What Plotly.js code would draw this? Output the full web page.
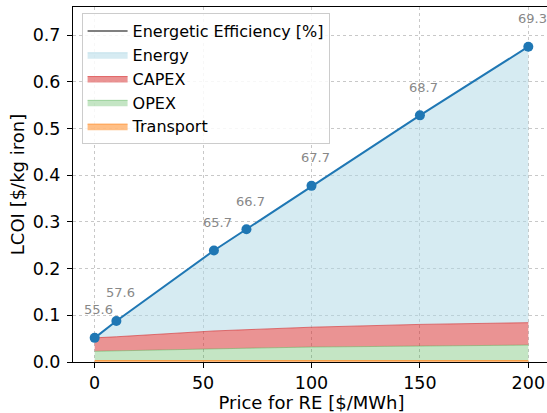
<!DOCTYPE html>
<html>
<head>
<meta charset="utf-8">
<script src="https://cdn.plot.ly/plotly-3.0.1.min.js"></script>
<style>
html,body{margin:0;padding:0;overflow:hidden;background:#fff;}
#chart{width:551px;height:413px;}
</style>
</head>
<body>
<div id="chart"></div>
<script>
// Price for renewable electricity [$/MWh]
const price = [0, 10, 55, 70, 100, 150, 200];
// LCOI components [$/kg iron]
const transport = [0.003, 0.003, 0.003, 0.003, 0.003, 0.003, 0.003];
const opex      = [0.0199, 0.021, 0.0255, 0.0265, 0.029, 0.0315, 0.0332];
const capex     = [0.0288, 0.030, 0.038, 0.0395, 0.0425, 0.046, 0.048];
const energy    = [0.0, 0.0339, 0.1722, 0.2153, 0.3026, 0.4475, 0.5908];
// Energetic efficiency [%]
const efficiency = ['55.6', '57.6', '65.7', '66.7', '67.7', '68.7', '69.3'];

const total = price.map((_, i) => transport[i] + opex[i] + capex[i] + energy[i]);

const traces = [
  {x: [null], y: [null], mode: 'lines', name: 'Energetic Efficiency [%]',
   line: {color: '#808080', width: 2}, legendrank: 1, hoverinfo: 'skip'},
  {x: price, y: transport, stackgroup: 'lcoi', mode: 'lines', name: 'Transport',
   fillcolor: 'rgba(255,127,14,0.5)', line: {color: 'rgba(255,127,14,0.7)', width: 1}, legendrank: 5},
  {x: price, y: opex, stackgroup: 'lcoi', mode: 'lines', name: 'OPEX',
   fillcolor: 'rgba(44,160,44,0.28)', line: {color: 'rgba(44,160,44,0.35)', width: 1}, legendrank: 4},
  {x: price, y: capex, stackgroup: 'lcoi', mode: 'lines', name: 'CAPEX',
   fillcolor: 'rgba(214,39,40,0.5)', line: {color: 'rgba(214,39,40,0.6)', width: 1}, legendrank: 3},
  {x: price, y: energy, stackgroup: 'lcoi', mode: 'lines', name: 'Energy',
   fillcolor: 'rgba(173,216,230,0.5)', line: {color: 'rgba(173,216,230,0.6)', width: 1}, legendrank: 2},
  {x: price, y: total, mode: 'lines+markers', showlegend: false, name: 'LCOI',
   line: {color: '#1f77b4', width: 2}, marker: {color: '#1f77b4', size: 10}}
];

const annotations = price.map((p, i) => ({
  x: p, y: total[i], text: efficiency[i], showarrow: false,
  xshift: 4, yshift: 28, font: {family: 'DejaVu Sans', size: 13, color: '#888888'}
}));

const axisCommon = {
  showline: true, linecolor: '#000', linewidth: 1, mirror: true,
  ticks: 'outside', ticklen: 5, tickcolor: '#000', tickwidth: 1,
  showgrid: true, gridcolor: '#c8c8c8', griddash: 'dot', gridwidth: 1,
  zeroline: false, tickfont: {family: 'DejaVu Sans', size: 17.5, color: '#000'}
};

const layout = {
  width: 551, height: 413,
  margin: {l: 73.3, r: 1, t: 7, b: 51},
  paper_bgcolor: '#fff', plot_bgcolor: '#fff',
  font: {family: 'DejaVu Sans', color: '#000'},
  showlegend: true,
  legend: {x: 0.018, y: 0.983, xanchor: 'left', yanchor: 'top', itemwidth: 40,
           bgcolor: 'rgba(255,255,255,0.85)', bordercolor: '#cccccc', borderwidth: 1,
           font: {family: 'DejaVu Sans', size: 16, color: '#000'}, traceorder: 'normal'},
  xaxis: Object.assign({}, axisCommon, {
    range: [-10, 210], tickvals: [0, 50, 100, 150, 200],
    title: {text: 'Price for RE [$/MWh]', font: {family: 'DejaVu Sans', size: 18, color: '#000'}, standoff: 5}
  }),
  yaxis: Object.assign({}, axisCommon, {
    range: [0, 0.76], tickvals: [0, 0.1, 0.2, 0.3, 0.4, 0.5, 0.6, 0.7], tickformat: '.1f',
    ticklabelstandoff: 3,
    title: {text: 'LCOI [$/kg iron]', font: {family: 'DejaVu Sans', size: 18, color: '#000'}, standoff: 3}
  }),
  annotations: annotations
};

Plotly.newPlot('chart', traces, layout, {displayModeBar: false, staticPlot: true});
</script>
</body>
</html>
